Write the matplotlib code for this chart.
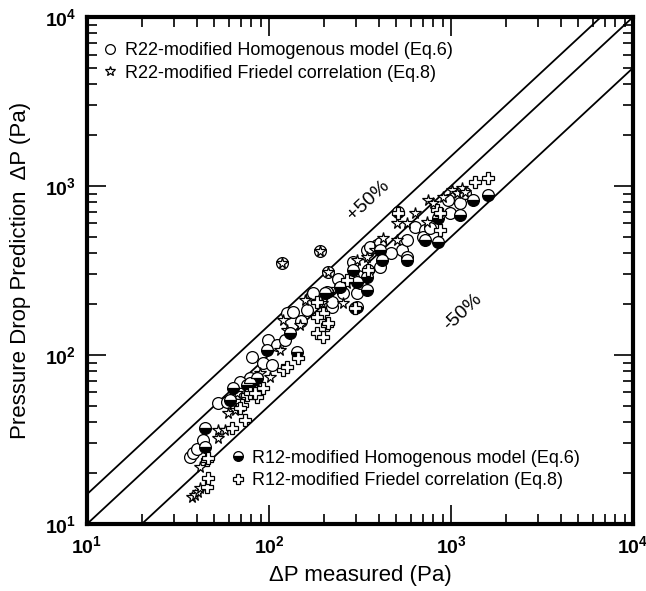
import matplotlib
matplotlib.use("Agg")
import matplotlib.pyplot as plt
import numpy as np
from matplotlib.ticker import FuncFormatter, LogLocator
from matplotlib.lines import Line2D

plt.rcParams['font.family'] = ['Liberation Sans', 'DejaVu Sans']
plt.rcParams['mathtext.fontset'] = 'custom'
plt.rcParams['mathtext.rm'] = 'Liberation Sans:bold'
plt.rcParams['mathtext.bf'] = 'Liberation Sans:bold'

# R22 - modified homogeneous model (Eq.6)
r22_hom_meas = [36.8, 38.2, 40.2, 43.4, 52.5, 58.8, 65.0, 67.6, 71.1, 78.6, 69.3, 80.7, 92.7, 104, 98.8,
                111, 122, 126, 135, 162, 172, 175, 222, 222, 255, 305, 290, 316, 324, 345, 392, 359,
                407, 407, 538, 573, 634, 720, 702, 767, 964, 988, 1120, 1194, 118, 191, 211, 290, 350,
                150, 240, 470]
r22_hom_pred = [24.9, 26.3, 27.8, 31.4, 52.0, 52.7, 54.2, 59.6, 64.7, 73.1, 69.2, 97.3, 89.7, 87.3, 123,
                115, 123, 177, 180, 185, 227, 233, 192, 206, 233, 233, 290, 267, 341, 418, 448, 436,
                460, 332, 418, 479, 570, 550, 499, 564, 826, 692, 793, 910, 350, 412, 310, 355, 318,
                160, 280, 400]

# R22 - modified Friedel correlation (Eq.8)
r22_fri_meas = [37.8, 39.2, 40.7, 41.8, 41.8, 52.5, 52.5, 57.3, 59.5, 65.0, 66.7, 81.7, 89.3, 101, 115,
                119, 126, 118, 191, 211, 195, 255, 268, 305, 345, 423, 505, 505, 573, 634, 738, 748,
                797, 1012, 1079, 1148, 1194, 148, 158, 230, 380, 900]
r22_fri_pred = [14.4, 14.9, 15.5, 16.3, 21.7, 32.3, 36.0, 36.0, 45.4, 47.3, 59.6, 64.7, 78.2, 74.1, 107,
                161, 141, 350, 412, 310, 203, 203, 267, 365, 380, 492, 479, 604, 604, 692, 612, 826,
                793, 946, 910, 973, 921, 151, 211, 245, 420, 860]

# R12 - modified homogeneous model (Eq.6)
r12_hom_meas = [44.5, 44.5, 61.1, 63.4, 75.7, 78.6, 85.9, 97.5, 130, 142, 208, 203, 245, 305, 290, 345,
                345, 297, 305, 407, 418, 573, 573, 512, 720, 849, 849, 1120, 1321, 1596]
r12_hom_pred = [28.6, 37.0, 54.2, 63.8, 66.4, 68.3, 73.1, 107, 135, 104, 236, 233, 253, 270, 318, 243,
                290, 190, 192, 418, 365, 380, 365, 702, 479, 467, 647, 673, 826, 885]

# R12 - modified Friedel correlation (Eq.8)
r12_fri_meas = [45.6, 46.2, 45.6, 46.2, 62.6, 73.8, 71.1, 69.3, 75.7, 85.9, 78.6, 83.8, 92.7, 119, 126,
                144, 184, 198, 208, 198, 184, 184, 211, 297, 350, 512, 838, 871, 871, 1355, 1596, 268]
r12_fri_pred = [16.6, 18.7, 23.9, 24.6, 37.0, 41.2, 50.6, 48.6, 57.9, 56.4, 59.6, 59.6, 63.8, 81.5, 84.9,
                96.0, 135, 128, 151, 177, 206, 168, 155, 190, 318, 692, 721, 550, 692, 1057, 1114, 278]

line_factors = [1.0, 1.5, 0.5]
axis_limits = [10, 10000]

fig = plt.figure(figsize=(6.46, 5.91), dpi=100)
ax = fig.add_axes([0.1347, 0.1134, 0.9799 - 0.1347, 0.9712 - 0.1134])
ax.set_xscale('log')
ax.set_yscale('log')
ax.set_xlim(axis_limits)
ax.set_ylim(axis_limits)

xs = np.array(axis_limits, dtype=float)
for f in line_factors:
    ax.plot(xs, xs * f, color='black', lw=1.3, zorder=1)

ms = 8.5
ax.plot(r22_hom_meas, r22_hom_pred, ls='none', marker='o', ms=ms, mfc='white', mec='black', mew=0.9, zorder=2)
ax.plot(r22_fri_meas, r22_fri_pred, ls='none', marker='*', ms=ms, mfc='white', mec='black', mew=0.9, zorder=3)
ax.plot(r12_hom_meas, r12_hom_pred, ls='none', marker='o', ms=ms, fillstyle='bottom', mfc='black',
        mfcalt='white', mec='black', mew=0.9, zorder=4)
ax.plot(r12_fri_meas, r12_fri_pred, ls='none', marker='P', ms=ms, mfc='white', mec='black', mew=0.9, zorder=5)

for sp in ax.spines.values():
    sp.set_linewidth(3)

ax.tick_params(which='both', direction='in', top=True, right=True)
ax.tick_params(which='major', length=14, width=1.2, pad=8, labelsize=14)
ax.tick_params(which='minor', length=7, width=1.2)
ax.xaxis.set_major_locator(LogLocator(base=10, numticks=10))
ax.yaxis.set_major_locator(LogLocator(base=10, numticks=10))
ax.xaxis.set_minor_locator(LogLocator(base=10, subs=np.arange(2, 10), numticks=20))
ax.yaxis.set_minor_locator(LogLocator(base=10, subs=np.arange(2, 10), numticks=20))
fmt = FuncFormatter(lambda v, p: r'$\mathbf{10^{%d}}$' % int(round(np.log10(v))))
ax.xaxis.set_major_formatter(fmt)
ax.yaxis.set_major_formatter(fmt)
ax.xaxis.set_minor_formatter(FuncFormatter(lambda v, p: ''))
ax.yaxis.set_minor_formatter(FuncFormatter(lambda v, p: ''))

ax.set_xlabel('ΔP measured (Pa)', fontsize=16, labelpad=6)
ax.set_ylabel('Pressure Drop Prediction  ΔP (Pa)', fontsize=16, labelpad=10)

ax.text(350, 826, '+50%', rotation=43, fontsize=14, ha='center', va='center')
ax.text(1164, 180, '-50%', rotation=43, fontsize=14, ha='center', va='center')

h1 = [Line2D([], [], ls='none', marker='o', ms=7, mfc='white', mec='black', mew=0.9),
      Line2D([], [], ls='none', marker='*', ms=7, mfc='white', mec='black', mew=0.9)]
leg1 = ax.legend(h1, ['R22-modified Homogenous model (Eq.6)', 'R22-modified Friedel correlation (Eq.8)'],
                 loc='upper left', bbox_to_anchor=(0.0, 0.975), frameon=False, fontsize=13,
                 handletextpad=0.2, handlelength=1.2, labelspacing=0.3, borderaxespad=0.3)
ax.add_artist(leg1)
h2 = [Line2D([], [], ls='none', marker='o', ms=7, fillstyle='bottom', mfc='black', mfcalt='white', mec='black', mew=0.9),
      Line2D([], [], ls='none', marker='P', ms=7, mfc='white', mec='black', mew=0.9)]
ax.legend(h2, ['R12-modified Homogenous model (Eq.6)', 'R12-modified Friedel correlation (Eq.8)'],
          loc='upper left', bbox_to_anchor=(0.243, 0.161), frameon=False, fontsize=13,
          handletextpad=0.2, handlelength=1.2, labelspacing=0.3, borderaxespad=0.0)

fig.savefig('out.png', dpi=100)
